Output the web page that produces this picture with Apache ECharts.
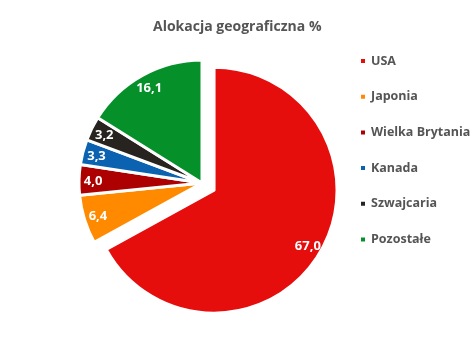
<!DOCTYPE html>
<html>
<head>
<meta charset="utf-8">
<script src="https://cdn.jsdelivr.net/npm/echarts@6/dist/echarts.min.js"></script>
<style>html,body{margin:0;padding:0;background:#fff}#c{width:476px;height:337px}</style>
</head>
<body>
<div id="c"></div>
<script>
var categories = ['USA', 'Japonia', 'Wielka Brytania', 'Kanada', 'Szwajcaria', 'Pozostałe'];
var values = [67.0, 6.4, 4.0, 3.3, 3.2, 16.1];
var colors = ['#e60d0d', '#ff8a00', '#ad0000', '#0a62b0', '#27231f', '#05902a'];
var titleText = 'Alokacja geograficzna %';

var FONT = '"Open Sans", sans-serif';
function fmt(v) { return v.toFixed(1).replace('.', ','); }

var sliceData = categories.map(function (n, i) {
  return { name: n, value: values[i], selected: i === 0 };
});
var labelData = categories.map(function (n, i) {
  return { name: n, value: values[i], selected: i === 0 };
});

var chart = echarts.init(document.getElementById('c'), null, { renderer: 'canvas' });
chart.setOption({
  animation: false,
  color: colors,
  title: {
    text: titleText, left: 148, top: 15,
    textStyle: { fontFamily: FONT, fontWeight: 'bold', fontSize: 14, color: '#555' }
  },
  legend: {
    orient: 'vertical', left: 359, top: 54, padding: 0,
    icon: 'rect', itemWidth: 6, itemHeight: 6, itemGap: 21.7,
    data: categories,
    textStyle: { fontFamily: FONT, fontWeight: 'bold', fontSize: 12.5, color: '#555', lineHeight: 14 }
  },
  series: [{
    type: 'pie',
    center: [202, 183], radius: [0, 123],
    startAngle: 90, clockwise: true,
    selectedMode: 'single', selectedOffset: 14,
    itemStyle: { borderColor: '#fff', borderWidth: 3 },
    select: { itemStyle: { borderColor: '#fff', borderWidth: 3 } },
    emphasis: { disabled: true },
    label: { show: false }, labelLine: { show: false },
    data: sliceData
  }, {
    type: 'pie', silent: true,
    center: [202, 184], radius: [84, 128],
    startAngle: 90, clockwise: true,
    selectedMode: 'single', selectedOffset: 14,
    itemStyle: { color: 'rgba(0,0,0,0)', borderWidth: 0 },
    select: { itemStyle: { color: 'rgba(0,0,0,0)', borderWidth: 0 } },
    emphasis: { disabled: true },
    label: {
      show: true, position: 'inside',
      fontFamily: FONT, fontWeight: 'bold', fontSize: 13, color: '#fff',
      formatter: function (p) { return fmt(p.value); }
    },
    labelLine: { show: false },
    data: labelData
  }]
});
</script>
</body>
</html>
